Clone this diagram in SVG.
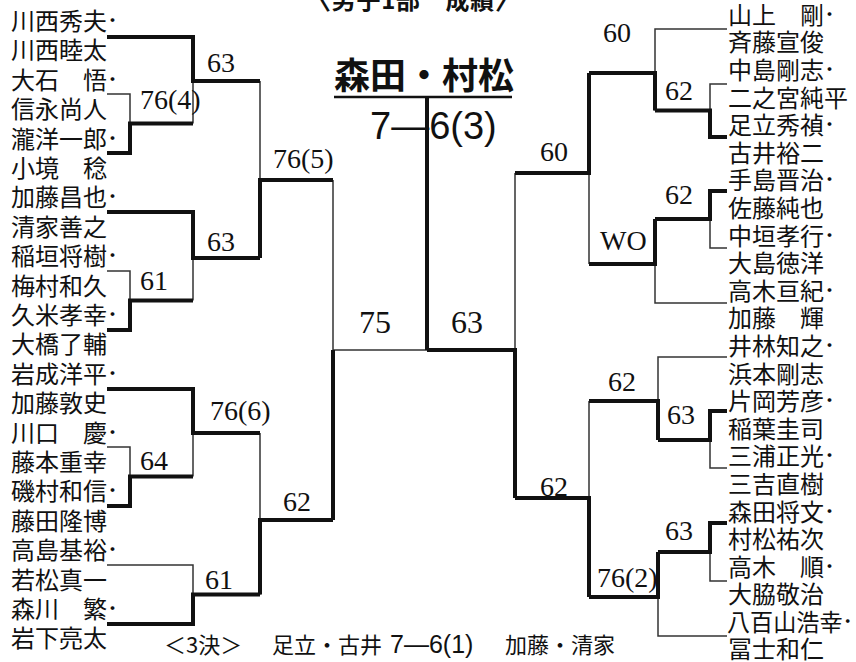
<svg xmlns="http://www.w3.org/2000/svg" width="856" height="662" viewBox="0 0 856 662">
<style>
.nm{font-family:"Noto Sans CJK JP","Noto Sans CJK SC",sans-serif;font-size:24px;fill:#111}
.dt{font-size:15px;font-weight:bold}
.sc{font-family:"Liberation Serif","DejaVu Serif",serif;font-size:28px;fill:#111}
.scb{font-family:"Liberation Serif","DejaVu Serif",serif;font-size:32px;fill:#111}
.thin{fill:none;stroke:#333;stroke-width:1.5}
.thick{fill:none;stroke:#111;stroke-width:4;stroke-linejoin:miter}
.gt{font-family:"Liberation Sans","Noto Sans CJK JP",sans-serif;fill:#111}
.jp{font-family:"Noto Sans CJK JP","Noto Sans CJK SC",sans-serif;fill:#111}
</style>
<rect width="856" height="662" fill="#fff"/>
<text class="jp" x="413" y="9" font-size="24" text-anchor="middle" textLength="212" font-weight="bold">〈男子1部　成績〉</text>

<g id="title">
<text class="jp" x="424" y="89" text-anchor="middle" font-size="36" font-weight="bold">森田・村松</text>
<line x1="334" y1="97" x2="512" y2="97" stroke="#111" stroke-width="2.5"/>
<text class="gt" x="370" y="139" font-size="38">7—6(3)</text>
</g>

<g id="connectors">
<path class="thin" d="M107,94H130V153H107M107,37H193V123.5M107,271H130V330H107M107,212H193V300.5M260,81V258M107,447H130V506H107M107,389H193V476.5M107,565H193V624H107M260,433V594.5M333,180V518M333,350H427"/>
<path class="thick" d="M107,153H130V123.5H193M107,37H193V81H260M107,330H130V300.5H193M107,212H193V258H260M260,258V180H333M107,506H130V476.5H193M107,389H193V433H260M107,624H193V594.5H260M260,594.5V520H333M333,520V350"/>
<path class="thin" d="M727,84H710V137H727M727,29H655V110.5M727,191H710V248H727M655,219V303H727M589,73V264M727,411H710V468H727M727,357H658V440M727,523H710V581H727M658,552V636H727M589,401V597M515,173V498"/>
<path class="thick" d="M727,137H710V110.5H655M655,110.5V73H589M727,191H710V219H655M655,219V264H589M589,73V173H515M727,411H710V440H658M658,440V401H589M727,523H710V552H658M658,552V597H589M589,597V498H515M515,498V350H427M427,350V97"/>
</g>

<g id="scores">
<text class="sc" x="207" y="72">63</text>
<text class="sc" x="140" y="109">76(4)</text>
<text class="sc" x="273" y="168">76(5)</text>
<text class="sc" x="207" y="251">63</text>
<text class="sc" x="140" y="290">61</text>
<text class="sc" x="210" y="420">76(6)</text>
<text class="sc" x="140" y="470">64</text>
<text class="sc" x="283" y="511">62</text>
<text class="sc" x="205" y="589">61</text>
<text class="scb" x="359" y="333">75</text>
<text class="scb" x="451" y="333">63</text>
<text class="sc" x="603" y="42">60</text>
<text class="sc" x="665" y="100">62</text>
<text class="sc" x="540" y="161">60</text>
<text class="sc" x="665" y="204">62</text>
<text class="sc" x="600" y="250" font-size="24">WO</text>
<text class="sc" x="608" y="391">62</text>
<text class="sc" x="667" y="424">63</text>
<text class="sc" x="540" y="496">62</text>
<text class="sc" x="665" y="540">63</text>
<text class="sc" x="597" y="587">76(2)</text>
</g>

<g id="left-teams">
<g id="L1"><text class="nm" x="11" y="30">川西秀夫<tspan class="dt" dx="-2" dy="-4">・</tspan></text><text class="nm" x="11" y="59.4">川西睦太</text></g>
<g id="L2"><text class="nm" x="11" y="88.8">大石　悟<tspan class="dt" dx="-2" dy="-4">・</tspan></text><text class="nm" x="11" y="118.2">信永尚人</text></g>
<g id="L3"><text class="nm" x="11" y="147.6">瀧洋一郎<tspan class="dt" dx="-2" dy="-4">・</tspan></text><text class="nm" x="11" y="177">小境　稔</text></g>
<g id="L4"><text class="nm" x="11" y="206.4">加藤昌也<tspan class="dt" dx="-2" dy="-4">・</tspan></text><text class="nm" x="11" y="235.8">清家善之</text></g>
<g id="L5"><text class="nm" x="11" y="265.2">稲垣将樹<tspan class="dt" dx="-2" dy="-4">・</tspan></text><text class="nm" x="11" y="294.6">梅村和久</text></g>
<g id="L6"><text class="nm" x="11" y="324">久米孝幸<tspan class="dt" dx="-2" dy="-4">・</tspan></text><text class="nm" x="11" y="353.4">大橋了輔</text></g>
<g id="L7"><text class="nm" x="11" y="382.8">岩成洋平<tspan class="dt" dx="-2" dy="-4">・</tspan></text><text class="nm" x="11" y="412.2">加藤敦史</text></g>
<g id="L8"><text class="nm" x="11" y="441.6">川口　慶<tspan class="dt" dx="-2" dy="-4">・</tspan></text><text class="nm" x="11" y="471">藤本重幸</text></g>
<g id="L9"><text class="nm" x="11" y="500.4">磯村和信<tspan class="dt" dx="-2" dy="-4">・</tspan></text><text class="nm" x="11" y="529.8">藤田隆博</text></g>
<g id="L10"><text class="nm" x="11" y="559.2">高島基裕<tspan class="dt" dx="-2" dy="-4">・</tspan></text><text class="nm" x="11" y="588.6">若松真一</text></g>
<g id="L11"><text class="nm" x="11" y="618">森川　繁<tspan class="dt" dx="-2" dy="-4">・</tspan></text><text class="nm" x="11" y="647.4">岩下亮太</text></g>
</g>

<g id="right-teams">
<g id="R1"><text class="nm" x="728" y="24">山上　剛<tspan class="dt" dx="-2" dy="-4">・</tspan></text><text class="nm" x="728" y="51.4">斉藤宣俊</text></g>
<g id="R2"><text class="nm" x="728" y="79">中島剛志<tspan class="dt" dx="-2" dy="-4">・</tspan></text><text class="nm" x="728" y="106.6">二之宮純平</text></g>
<g id="R3"><text class="nm" x="728" y="134.2">足立秀禎<tspan class="dt" dx="-2" dy="-4">・</tspan></text><text class="nm" x="728" y="161.8">古井裕二</text></g>
<g id="R4"><text class="nm" x="728" y="189.4">手島晋治<tspan class="dt" dx="-2" dy="-4">・</tspan></text><text class="nm" x="728" y="217">佐藤純也</text></g>
<g id="R5"><text class="nm" x="728" y="244.6">中垣孝行<tspan class="dt" dx="-2" dy="-4">・</tspan></text><text class="nm" x="728" y="272.2">大島徳洋</text></g>
<g id="R6"><text class="nm" x="728" y="299.8">高木亘紀<tspan class="dt" dx="-2" dy="-4">・</tspan></text><text class="nm" x="728" y="327.4">加藤　輝</text></g>
<g id="R7"><text class="nm" x="728" y="355">井林知之<tspan class="dt" dx="-2" dy="-4">・</tspan></text><text class="nm" x="728" y="382.6">浜本剛志</text></g>
<g id="R8"><text class="nm" x="728" y="410.2">片岡芳彦<tspan class="dt" dx="-2" dy="-4">・</tspan></text><text class="nm" x="728" y="437.8">稲葉圭司</text></g>
<g id="R9"><text class="nm" x="728" y="465.4">三浦正光<tspan class="dt" dx="-2" dy="-4">・</tspan></text><text class="nm" x="728" y="493">三吉直樹</text></g>
<g id="R10"><text class="nm" x="728" y="520.6">森田将文<tspan class="dt" dx="-2" dy="-4">・</tspan></text><text class="nm" x="728" y="548.2">村松祐次</text></g>
<g id="R11"><text class="nm" x="728" y="575.8">高木　順<tspan class="dt" dx="-2" dy="-4">・</tspan></text><text class="nm" x="728" y="603.4">大脇敬治</text></g>
<g id="R12"><text class="nm" x="727" y="631" textLength="128" lengthAdjust="spacingAndGlyphs">八百山浩幸<tspan class="dt" dx="-2" dy="-4">・</tspan></text><text class="nm" x="728" y="658">冨士和仁</text></g>
</g>

<g id="third-place">
<text class="jp" x="164" y="653" font-size="22">＜3決＞</text>
<text class="jp" x="272" y="653" font-size="22">足立・古井</text>
<text class="gt" x="390" y="653" font-size="25">7—6(1)</text>
<text class="jp" x="505" y="653" font-size="22">加藤・清家</text>
</g>
</svg>
